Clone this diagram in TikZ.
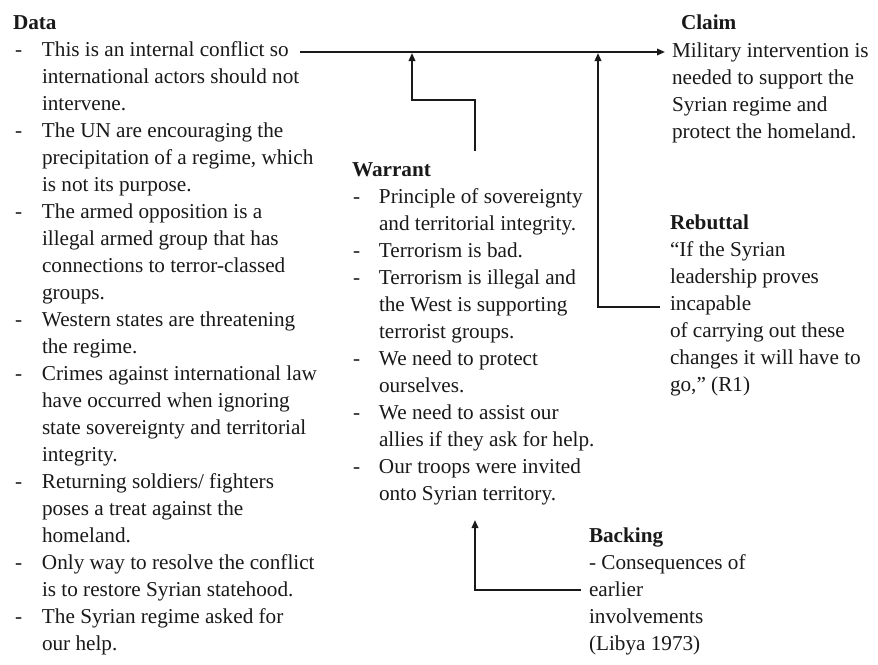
\documentclass[tikz,border=0pt]{standalone}
\usepackage{fontspec}
\setmainfont{Liberation Serif}
\usetikzlibrary{arrows.meta}
\newcommand\dshA{\makebox[29pt][l]{\hspace{2pt}-}}
\newcommand\dshB{\makebox[27pt][l]{\hspace{1pt}-}}
\tikzset{
  txt/.style={anchor=base west, inner sep=0pt, outer sep=0pt,
    font=\fontsize{21.2}{27}\selectfont, text=black!90},
  conn/.style={line width=1.8pt, black!90},
  arr/.style={conn, -{Triangle[length=8pt,width=6.5pt]}}
}
\begin{document}
\begin{tikzpicture}[x=1pt,y=-1pt]
\useasboundingbox[fill=white] (0,0) rectangle (878,664);

% Data
\node[txt] (data) at (13,29) {\begin{tabular}[t]{@{}l@{}l@{}}
\multicolumn{2}{@{}l@{}}{\textbf{Data}}\\
\dshA & This is an internal conflict so\\
 & international actors should not\\
 & intervene.\\
\dshA & The UN are encouraging the\\
 & precipitation of a regime, which\\
 & is not its purpose.\\
\dshA & The armed opposition is a\\
 & illegal armed group that has\\
 & connections to terror-classed\\
 & groups.\\
\dshA & Western states are threatening\\
 & the regime.\\
\dshA & Crimes against international law\\
 & have occurred when ignoring\\
 & state sovereignty and territorial\\
 & integrity.\\
\dshA & Returning soldiers/ fighters\\
 & poses a treat against the\\
 & homeland.\\
\dshA & Only way to resolve the conflict\\
 & is to restore Syrian statehood.\\
\dshA & The Syrian regime asked for\\
 & our help.
\end{tabular}};

% Warrant
\node[txt] (warrant) at (352,176) {\begin{tabular}[t]{@{}l@{}l@{}}
\multicolumn{2}{@{}l@{}}{\textbf{Warrant}}\\
\dshB & Principle of sovereignty\\
 & and territorial integrity.\\
\dshB & Terrorism is bad.\\
\dshB & Terrorism is illegal and\\
 & the West is supporting\\
 & terrorist groups.\\
\dshB & We need to protect\\
 & ourselves.\\
\dshB & We need to assist our\\
 & allies if they ask for help.\\
\dshB & Our troops were invited\\
 & onto Syrian territory.
\end{tabular}};

% Claim
\node[txt] (claimhead) at (681,29) {\textbf{Claim}};
\node[txt] (claim) at (672,57) {\begin{tabular}[t]{@{}l@{}}
Military intervention is\\
needed to support the\\
Syrian regime and\\
protect the homeland.
\end{tabular}};

% Rebuttal
\node[txt] (rebuttal) at (670,229) {\begin{tabular}[t]{@{}l@{}}
\textbf{Rebuttal}\\
“If the Syrian\\
leadership proves\\
incapable\\
of carrying out these\\
changes it will have to\\
go,” (R1)
\end{tabular}};

% Backing
\node[txt] (backing) at (589,542) {\begin{tabular}[t]{@{}l@{}}
\textbf{Backing}\\
- Consequences of\\
earlier\\
involvements\\
(Libya 1973)
\end{tabular}};

% connector points
\coordinate (dataEnd) at (300,52);
\coordinate (claimIn) at (665,52);
\coordinate (j1) at (412,53);
\coordinate (j2) at (598,53);
\coordinate (wTop) at (475,151);
\coordinate (wBot) at (475,520);
\coordinate (rIn) at (660,307);
\coordinate (bIn) at (581,590);

\draw[arr] (dataEnd) -- (claimIn);
\draw[arr] (wTop) -- (wTop |- 0,100) -- (j1 |- 0,100) -- (j1);
\draw[arr] (rIn) -- (j2 |- rIn) -- (j2);
\draw[arr] (bIn) -- (wBot |- bIn) -- (wBot);
\end{tikzpicture}
\end{document}
